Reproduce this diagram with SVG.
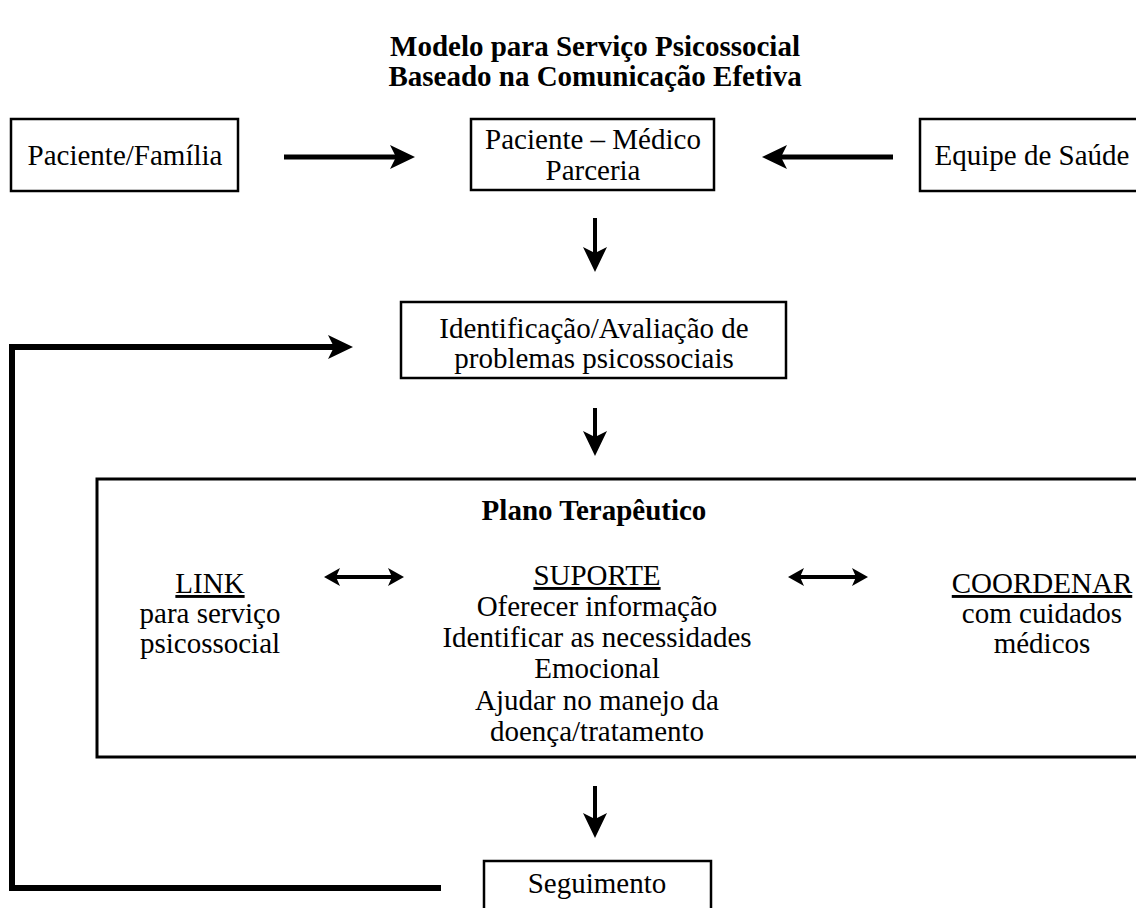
<svg xmlns="http://www.w3.org/2000/svg" width="1136" height="908" viewBox="0 0 1136 908">
<style>
text{font-family:"Liberation Serif","Times New Roman",serif;font-size:29px;fill:#000;text-anchor:middle}
.b{font-weight:bold}
.u{text-decoration:underline}
.box{fill:#fff;stroke:#000;stroke-width:2.5}
.big{fill:#fff;stroke:#000;stroke-width:3}
.c{fill:none;stroke:#000;stroke-width:5}
.d{fill:none;stroke:#000;stroke-width:4}
.fb{fill:none;stroke:#000;stroke-width:6}
</style>
<defs>
<marker id="ah" markerUnits="userSpaceOnUse" viewBox="0 0 25 24" refX="6" refY="12" markerWidth="25" markerHeight="24" orient="auto-start-reverse">
<path d="M0,0 L25,12 L0,24 L6,12 Z" fill="#000"/>
</marker>
<marker id="ahs" markerUnits="userSpaceOnUse" viewBox="0 0 16 18" refX="4" refY="9" markerWidth="16" markerHeight="18" orient="auto-start-reverse">
<path d="M0,0 L16,9 L0,18 L4,9 Z" fill="#000"/>
</marker>
</defs>
<rect width="1136" height="908" fill="#fff"/>
<g id="title">
<text class="b" x="595" y="56">Modelo para Serviço Psicossocial</text>
<text class="b" x="595" y="86">Baseado na Comunicação Efetiva</text>
</g>
<g id="node-paciente-familia">
<rect class="box" x="11" y="119" width="227" height="72"/>
<text x="125" y="165">Paciente/Família</text>
</g>
<g id="node-parceria">
<rect class="box" x="471" y="119" width="243" height="71"/>
<text x="593" y="149">Paciente – Médico</text>
<text x="593" y="180">Parceria</text>
</g>
<g id="node-equipe">
<rect class="box" x="920" y="119" width="240" height="72"/>
<text x="1032" y="165">Equipe de Saúde</text>
</g>
<g id="node-identificacao">
<rect class="box" x="401" y="302" width="385" height="76"/>
<text x="594" y="338">Identificação/Avaliação de</text>
<text x="594" y="368">problemas psicossociais</text>
</g>
<g id="node-plano">
<rect class="big" x="97" y="479" width="1060" height="278"/>
<text class="b" x="594" y="520">Plano Terapêutico</text>
<text class="u" x="210" y="593">LINK</text>
<text x="210" y="623">para serviço</text>
<text x="210" y="653">psicossocial</text>
<text class="u" x="597" y="585">SUPORTE</text>
<text x="597" y="616">Oferecer informação</text>
<text x="597" y="647">Identificar as necessidades</text>
<text x="597" y="678">Emocional</text>
<text x="597" y="710">Ajudar no manejo da</text>
<text x="597" y="741">doença/tratamento</text>
<text class="u" x="1042" y="593">COORDENAR</text>
<text x="1042" y="623">com cuidados</text>
<text x="1042" y="653">médicos</text>
</g>
<g id="node-seguimento">
<rect class="box" x="484" y="861" width="227" height="60"/>
<text x="597" y="893">Seguimento</text>
</g>
<g id="connectors">
<line class="c" x1="284" y1="157" x2="396" y2="157" marker-end="url(#ah)"/>
<line class="c" x1="893" y1="157" x2="781" y2="157" marker-end="url(#ah)"/>
<line class="d" x1="595" y1="218" x2="595" y2="253" marker-end="url(#ah)"/>
<line class="d" x1="595" y1="408" x2="595" y2="437" marker-end="url(#ah)"/>
<line class="d" x1="595" y1="786" x2="595" y2="819" marker-end="url(#ah)"/>
<polyline class="fb" points="441,888 12,888 12,347 334,347" marker-end="url(#ah)"/>
<line class="d" x1="336" y1="577" x2="392" y2="577" marker-start="url(#ahs)" marker-end="url(#ahs)"/>
<line class="d" x1="800" y1="577" x2="856" y2="577" marker-start="url(#ahs)" marker-end="url(#ahs)"/>
</g>
</svg>
